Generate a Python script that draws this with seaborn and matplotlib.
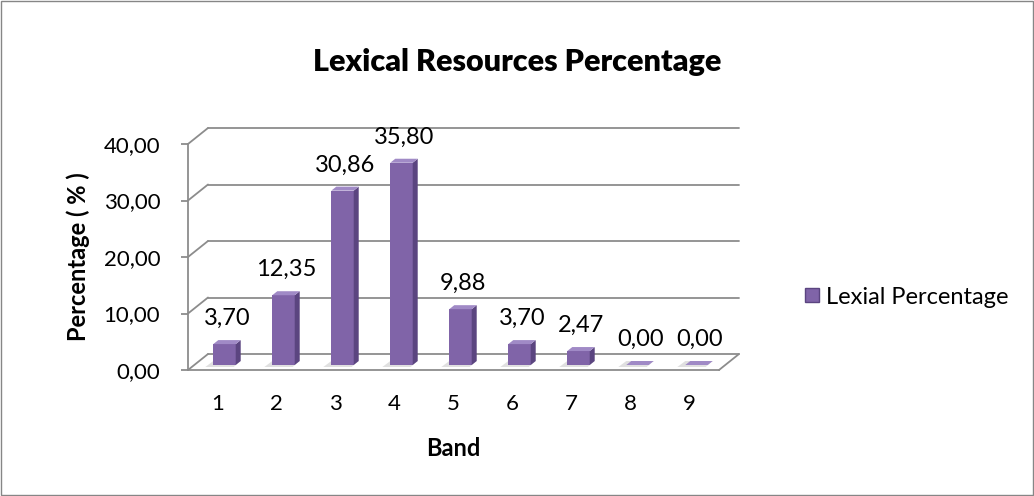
"""
Lexical Resources Percentage - Excel style 3D column chart redone with seaborn
"""

import numpy as np
import pandas as pd
import matplotlib
matplotlib.use("Agg")
import matplotlib.pyplot as plt
import matplotlib.transforms as mtransforms
from matplotlib.patches import Polygon, Rectangle
from matplotlib.lines import Line2D
import seaborn as sns

# -------------------------------
# Data
# -------------------------------
bands = ["1", "2", "3", "4", "5", "6", "7", "8", "9"]
percentages = [3.70, 12.35, 30.86, 35.80, 9.88, 3.70, 2.47, 0.00, 0.00]
y_ticks = [0, 10, 20, 30, 40]
series_name = "Lexial Percentage"

FRONT = "#8064a8"
SIDE = "#5b4580"
TOP = "#a08ac6"
GRID = "#8c8c8c"

sns.set_style("white")
plt.rcParams["font.family"] = ["Lato", "DejaVu Sans"]
plt.rcParams["text.color"] = "black"
plt.rcParams["axes.labelcolor"] = "black"
plt.rcParams["xtick.labelcolor"] = "black"
plt.rcParams["ytick.labelcolor"] = "black"

W, H = 1034, 496
fig = plt.figure(figsize=(W / 100, H / 100), dpi=100)
ax = fig.add_axes([188 / W, (H - 370) / H, 531 / W, 226 / H])

df = pd.DataFrame({"Band": bands, "Percentage": percentages})
sns.barplot(data=df, x="Band", y="Percentage", color=FRONT, width=0.38,
            saturation=1, ax=ax, zorder=3)

ax.set_xlim(-0.5, len(bands) - 0.5)
ax.set_ylim(0, 40)


def px_offset(dx, dy):
    # shift in screen pixels on top of data coords
    return ax.transData + mtransforms.ScaledTranslation(dx / 100, dy / 100, fig.dpi_scale_trans)


# -------------------------------
# back wall gridlines (perspective)
# -------------------------------
depth_x, depth_y = 20, 16
x0, x1 = ax.get_xlim()
for v in y_ticks:
    px, py = ax.transData.transform((x0, v))
    fig.add_artist(Line2D([px, px + depth_x], [py, py + depth_y], color=GRID, lw=1.3,
                          transform=None, zorder=1))
    ax.add_line(Line2D([x0, x1], [v, v], color=GRID, lw=1.3, clip_on=False, zorder=1,
                       transform=px_offset(depth_x, depth_y)))
# floor right edge
fx, fy = ax.transData.transform((x1, 0))
fig.add_artist(Line2D([fx, fx + depth_x], [fy, fy + depth_y], color=GRID, lw=1.3,
                      transform=None))

# -------------------------------
# 3D-ish bars
# -------------------------------
bar_dx, bar_dy = 7, 5
side_dx, side_dy = 5, 4
bars = list(ax.patches)
for p in bars:
    trb = px_offset(bar_dx, bar_dy)
    p.set_transform(trb)
    p.set_edgecolor("none")
    p.set_clip_on(False)
    bx, bw, bh = p.get_x(), p.get_width(), p.get_height()
    (ax0, ay0) = trb.transform((bx, 0))
    (ax1, ay1) = trb.transform((bx + bw, bh))
    # soft shadow on the floor, behind the bar
    ax.add_patch(Polygon([(ax0 - 8, ay0 - 2), (ax1 - 2, ay0 - 2),
                          (ax1 + side_dx, ay0 + side_dy), (ax0, ay0 + side_dy)],
                         closed=True, facecolor="#d4d4d4", edgecolor="none",
                         alpha=0.7, transform=None, zorder=2, clip_on=False))
    fig.add_artist(Polygon([(ax1, ay0), (ax1 + side_dx, ay0 + side_dy),
                            (ax1 + side_dx, ay1 + side_dy), (ax1, ay1)],
                           closed=True, facecolor=SIDE, edgecolor="none", transform=None, zorder=4))
    fig.add_artist(Polygon([(ax0, ay1), (ax0 + side_dx, ay1 + side_dy),
                            (ax1 + side_dx, ay1 + side_dy), (ax1, ay1)],
                           closed=True, facecolor=TOP, edgecolor="none", transform=None, zorder=4))

# data labels
for i, v in enumerate(percentages):
    ax.annotate(f"{v:.2f}".replace(".", ","), (i, v), xytext=(7, 22),
                textcoords="offset points", ha="center", va="center",
                fontsize=17, color="black", annotation_clip=False)

# -------------------------------
# axes / ticks
# -------------------------------
ax.set_yticks(y_ticks)
ax.set_yticklabels([f"{v},00" for v in y_ticks], fontsize=16)
ax.set_xticks(range(len(bands)))
ax.set_xticklabels(bands, fontsize=16)
ax.set_xticks(np.arange(-0.5, len(bands), 1), minor=True)
ax.tick_params(axis="x", which="major", length=0, pad=17)
ax.tick_params(axis="x", which="minor", length=7, width=1.3, color=GRID, direction="out")
ax.tick_params(axis="y", length=5, width=1.3, color=GRID, direction="out", pad=15, left=True)
ax.grid(False)
for s in ["top", "right"]:
    ax.spines[s].set_visible(False)
for s in ["left", "bottom"]:
    ax.spines[s].set_color(GRID)
    ax.spines[s].set_linewidth(1.3)

ax.set_xlabel("Band", fontsize=17, fontweight="bold", labelpad=17)
ax.set_ylabel("Percentage ( % )", fontsize=17, fontweight="bold", labelpad=10)

fig.text(517 / W, 1 - 62 / H, "Lexical Resources Percentage", ha="center", va="center",
         fontsize=22, fontweight="heavy")

# legend
handle = Line2D([], [], marker="s", linestyle="none", markersize=10,
                markerfacecolor=FRONT, markeredgecolor=SIDE)
fig.legend([handle], [series_name], loc="center left", bbox_to_anchor=(801 / W, 1 - 297 / H),
           frameon=False, fontsize=17, handletextpad=0.15, handlelength=0.9,
           borderpad=0, borderaxespad=0)

# chart border
fig.add_artist(Rectangle((1 / W, 1 / H), 1 - 2 / W, 1 - 2 / H, transform=fig.transFigure,
                         fill=False, edgecolor="#868686", lw=1))

fig.savefig("out.png", dpi=100)
